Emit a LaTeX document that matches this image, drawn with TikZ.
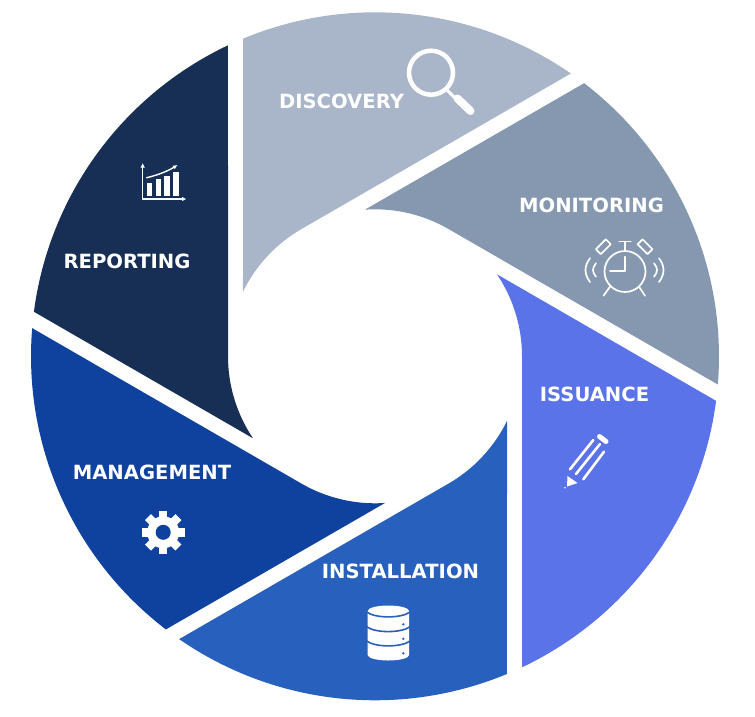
\documentclass[tikz,border=0pt]{standalone}
\usepackage{fontspec}
\usetikzlibrary{calc,arrows.meta}
\setmainfont{DejaVu Sans}
\definecolor{cDisc}{HTML}{A9B5C9}
\definecolor{cMoni}{HTML}{8697B0}
\definecolor{cIssu}{HTML}{5B73E8}
\definecolor{cInst}{HTML}{2860BE}
\definecolor{cMana}{HTML}{0E429E}
\definecolor{cRepo}{HTML}{172F55}
\tikzset{
  x=1pt,y=1pt,
  seglabel/.style={text=white,inner sep=0pt,font=\fontsize{19.6}{22}\selectfont\bfseries},
  iconline/.style={draw=white,line width=1.7pt,line cap=round,line join=round},
}
\begin{document}
\begin{tikzpicture}
\useasboundingbox (0,0) rectangle (755,-716);
% ring segments: one shape, turned by 60 degrees each
\begin{scope}[shift={(375,-356.3)}]
\foreach \ang/\col in {0/cDisc,-60/cMoni,-120/cIssu,-180/cInst,-240/cMana,-300/cRepo}{
  \fill[\col,rotate=\ang] (112.56:344) arc[start angle=112.56,end angle=55.3,radius=344]
    -- (120:147) arc[start angle=120,end angle=153.9,radius=147] -- cycle;
}
\end{scope}
% labels
\node[seglabel] (discovery) at (341.5,-101.5) {DISCOVERY};
\node[seglabel] (monitoring) at (591.5,-205.5) {MONITORING};
\node[seglabel] (issuance) at (594.5,-394.5) {ISSUANCE};
\node[seglabel] (installation) at (400.5,-571.3) {INSTALLATION};
\node[seglabel] (management) at (152,-472.3) {MANAGEMENT};
\node[seglabel] (reporting) at (127,-261.5) {REPORTING};
% icons, in reference pixel coordinates
\begin{scope}[y=-1pt]
% magnifier
\draw[white,line width=4.5pt] (431,72.7) circle[radius=22];
\draw[white,line width=3pt] (447,90) -- (455,98);
\draw[white,line width=8pt,line cap=round] (457.5,98.5) -- (470.5,111);
% alarm clock
\draw[iconline] (625,271.5) circle[radius=20.5];
\draw[iconline] (625,256.7) -- (625,271) -- (610,271);
\draw[iconline] (610,286.7) -- (603.5,295.7);
\draw[iconline] (639,286.7) -- (645,295.7);
\draw[iconline] (625,250.5) -- (625,241.5);
\draw[iconline] (619.3,241.5) -- (630.7,241.5);
\draw[iconline,rotate around={45:(603.3,246.7)}] (596.3,243.2) rectangle (610.3,250.2);
\draw[iconline,rotate around={-45:(645,246.7)}] (638,243.2) rectangle (652,250.2);
\draw[iconline] (596,263.3) .. controls (592,268) and (592,272) .. (596,276.7);
\draw[iconline] (590,258.3) .. controls (584,266) and (584,274) .. (590,282);
\draw[iconline] (654,263.3) .. controls (658,268) and (658,272) .. (654,276.7);
\draw[iconline] (659,258.3) .. controls (665,266) and (665,274) .. (659,282);
% pencil
\draw[iconline,line width=2.6pt] (570,469.3) -- (593.3,440);
\draw[iconline,line width=2.6pt] (576,474) -- (600,444);
\draw[iconline,line width=2.6pt] (583.3,479.3) -- (604,451.7);
\draw[white,line width=5pt,line cap=round] (599.5,436.5) -- (606,441.5);
\fill[white] (567.5,476) -- (577.5,483) -- (567,486.5) -- cycle;
\fill[white] (565,487.7) circle[radius=0.9];
% database
\fill[white] (367.7,611) arc[start angle=180,end angle=360,x radius=20.7,y radius=5.5]
  -- (409.1,655) arc[start angle=0,end angle=180,x radius=20.7,y radius=5.5] -- cycle;
\foreach \yy in {612,626.7,641}{
  \draw[cInst,line width=1.6pt] (366.7,\yy) .. controls (375,\yy+6.5) and (401.5,\yy+6.5) .. (410,\yy);
}
\foreach \yy in {624.3,638.8,653.3}{
  \fill[cInst] (403.3,\yy) circle[radius=1.3];
}
% gear
\foreach \ang in {0,45,90,135}{
  \draw[white,line width=8.5pt] ($(163.2,532.3)+(\ang:21.5)$) -- ($(163.2,532.3)+(\ang+180:21.5)$);
}
\fill[white] (163.2,532.3) circle[radius=16];
\fill[cMana] (163.2,532.3) circle[radius=7.5];
% chart
\draw[iconline,line width=1.4pt,-{Latex[length=4.5pt,width=4.5pt]}] (142.7,199) -- (142.7,163);
\draw[iconline,line width=1.4pt,-{Latex[length=4.5pt,width=4.5pt]}] (142.7,199) -- (186.5,199);
\fill[white] (146.7,183.3) rectangle (151.7,195.7);
\fill[white] (155.7,179) rectangle (160.7,195.7);
\fill[white] (164.3,175.7) rectangle (170,195.7);
\fill[white] (173.3,172.3) rectangle (179.3,195.7);
\draw[iconline,line width=1.4pt,-{Latex[length=4.5pt,width=4.5pt]}] (146.7,177.7) .. controls (158,175) and (168,171) .. (177.5,165);
\end{scope}
\end{tikzpicture}
\end{document}
